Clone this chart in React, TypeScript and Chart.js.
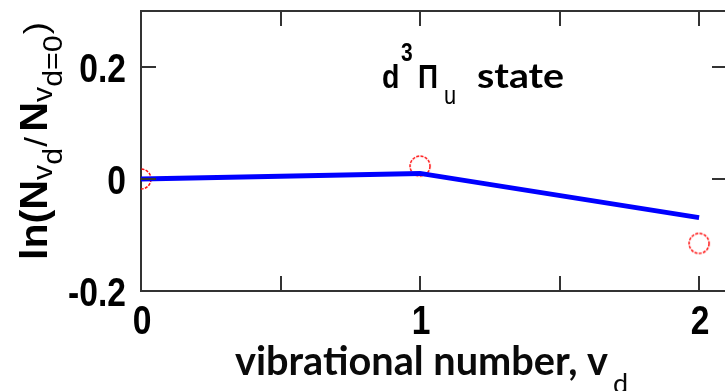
import React, { useEffect, useRef } from "react";
import { Chart, registerables } from "chart.js";

Chart.register(...registerables);

// ---- data ----
const vibLevels = [0, 1, 2];
const measuredLnRatio = [0, 0.023, -0.115];
const fittedLnRatio = [0, 0.01, -0.069];
const xTickLabels = [0, 1, 2];
const xTickMarks = [0.5, 1, 1.5, 2];
const yTickLabels = [-0.2, 0, 0.2];
const yTickMarks = [0, 0.2];

const W = 745;
const H = 391;
const ARIAL = '"Liberation Sans", Arial, sans-serif';
const HUMAN = 'Lato, "Open Sans", sans-serif';
const NARROW_K = 0.84;

type Seg = { t: string; f: string; dy: number; gap?: number };

function drawSegs(ctx: CanvasRenderingContext2D, segs: Seg[], totalWidth: number | null) {
  let natural = 0;
  for (const s of segs) {
    ctx.font = s.f;
    natural += ctx.measureText(s.t).width + (s.gap || 0);
  }
  const sx = totalWidth ? totalWidth / natural : 1;
  ctx.save();
  ctx.scale(sx, 1);
  let x = 0;
  for (const s of segs) {
    ctx.font = s.f;
    x += s.gap || 0;
    ctx.fillText(s.t, x, s.dy);
    x += ctx.measureText(s.t).width;
  }
  ctx.restore();
}

function narrowText(ctx: CanvasRenderingContext2D, t: string, x: number, y: number, align: CanvasTextAlign) {
  ctx.save();
  ctx.translate(x, y);
  ctx.scale(NARROW_K, 1);
  ctx.textAlign = align;
  ctx.fillText(t, 0, 0);
  ctx.restore();
}

function makeCircleImage(): HTMLCanvasElement {
  const c = document.createElement("canvas");
  c.width = 26;
  c.height = 26;
  const g = c.getContext("2d")!;
  g.strokeStyle = "#ff1010";
  g.lineWidth = 1.5;
  g.setLineDash([3, 1.3]);
  g.beginPath();
  g.arc(13, 13, 10, 0, Math.PI * 2);
  g.stroke();
  return c;
}

const decorPlugin = {
  id: "decor",
  afterDraw(chart: any) {
    const { ctx, chartArea: a, scales } = chart;
    const xs = scales.x;
    const ys = scales.y;
    const TL = 15;
    ctx.save();
    ctx.strokeStyle = "#333";
    ctx.lineWidth = 2;
    ctx.beginPath();
    for (const v of xTickMarks) {
      const px = Math.round(xs.getPixelForValue(v));
      ctx.moveTo(px, a.bottom);
      ctx.lineTo(px, a.bottom - TL);
      ctx.moveTo(px, a.top);
      ctx.lineTo(px, a.top + TL);
    }
    for (const v of yTickMarks) {
      const py = Math.round(ys.getPixelForValue(v));
      ctx.moveTo(a.left, py);
      ctx.lineTo(a.left + TL, py);
      ctx.moveTo(a.right, py);
      ctx.lineTo(a.right - TL, py);
    }
    ctx.stroke();
    ctx.restore();

    // tick labels (narrow bold)
    ctx.save();
    ctx.fillStyle = "#000";
    ctx.textBaseline = "alphabetic";
    ctx.font = `bold 40px ${ARIAL}`;
    for (const v of yTickLabels) {
      const py = ys.getPixelForValue(v);
      narrowText(ctx, String(v), 126, py + 15, "right");
    }
    for (const v of xTickLabels) {
      const px = xs.getPixelForValue(v);
      narrowText(ctx, String(v), px + 1, a.bottom + 43, "center");
    }
    ctx.restore();

    // y-axis title (rotated, with subscripts)
    ctx.save();
    ctx.fillStyle = "#000";
    ctx.textBaseline = "alphabetic";
    ctx.translate(47, 260);
    ctx.rotate(-Math.PI / 2);
    drawSegs(
      ctx,
      [
        { t: "ln(N", f: `bold 38px ${ARIAL}`, dy: 0 },
        { t: "v", f: `28px ${ARIAL}`, dy: 5 },
        { t: "d", f: `28px ${ARIAL}`, dy: 15 },
        { t: "/", f: `32px ${ARIAL}`, dy: 0, gap: 1 },
        { t: "N", f: `bold 38px ${ARIAL}`, dy: 0, gap: 5 },
        { t: "v", f: `28px ${ARIAL}`, dy: 5 },
        { t: "d=0", f: `28px ${ARIAL}`, dy: 15 },
        { t: ")", f: `34px ${ARIAL}`, dy: 0, gap: 1 },
      ],
      238
    );
    ctx.restore();

    // x-axis title
    ctx.save();
    ctx.fillStyle = "#0a0a0a";
    ctx.textBaseline = "alphabetic";
    ctx.translate(235, 375);
    drawSegs(ctx, [{ t: "vibrational number, v", f: `bold 41px ${HUMAN}`, dy: 0 }], 373);
    ctx.restore();
    ctx.save();
    ctx.fillStyle = "#0a0a0a";
    ctx.font = `27px ${HUMAN}`;
    ctx.fillText("d", 613, 393);
    ctx.restore();

    // state annotation
    ctx.save();
    ctx.fillStyle = "#000";
    ctx.textBaseline = "alphabetic";
    ctx.font = `bold 34px ${ARIAL}`;
    narrowText(ctx, "d", 382, 88, "left");
    ctx.font = `bold 25px ${ARIAL}`;
    narrowText(ctx, "3", 401, 61, "left");
    ctx.font = `bold 33px ${ARIAL}`;
    narrowText(ctx, "\u03A0", 418, 88, "left");
    ctx.font = `26px ${ARIAL}`;
    narrowText(ctx, "u", 444, 104, "left");
    ctx.translate(477, 88);
    drawSegs(ctx, [{ t: "state", f: `bold 35px ${HUMAN}`, dy: 0 }], 87);
    ctx.restore();
  },
};

export default function App() {
  const ref = useRef<HTMLCanvasElement | null>(null);
  useEffect(() => {
    if (!ref.current) return;
    const circleImg = makeCircleImage();
    const border = { display: true, color: "#333", width: 2 };
    const chart = new Chart(ref.current, {
      type: "scatter",
      data: {
        datasets: [
          {
            label: "fit",
            data: vibLevels.map((x, i) => ({ x, y: fittedLnRatio[i] })),
            showLine: true,
            borderColor: "#0000ff",
            backgroundColor: "#0000ff",
            borderWidth: 5,
            pointRadius: 0,
            tension: 0,
            order: 0,
            clip: 0,
          } as any,
          {
            label: "measured",
            data: vibLevels.map((x, i) => ({ x, y: measuredLnRatio[i] })),
            showLine: false,
            pointStyle: circleImg as any,
            pointRadius: 10,
            order: 1,
            clip: 0,
          } as any,
        ],
      },
      options: {
        responsive: false,
        animation: false,
        devicePixelRatio: 1,
        layout: { padding: 0 },
        plugins: { legend: { display: false }, tooltip: { enabled: false }, title: { display: false } },
        scales: {
          x: {
            type: "linear",
            position: "bottom",
            min: 0,
            max: 2.1,
            afterBuildTicks: (s: any) => {
              s.ticks = xTickLabels.map((v) => ({ value: v }));
            },
            afterFit: (s: any) => {
              s.height = 100;
              s.paddingLeft = 0;
              s.paddingRight = 0;
            },
            grid: { display: false, drawTicks: false },
            border,
            ticks: { display: false },
          },
          x2: {
            type: "linear",
            position: "top",
            min: 0,
            max: 2.1,
            afterFit: (s: any) => {
              s.height = 8;
              s.paddingLeft = 0;
              s.paddingRight = 0;
            },
            grid: { display: false, drawTicks: false },
            border,
            ticks: { display: false },
          },
          y: {
            type: "linear",
            position: "left",
            min: -0.2,
            max: 0.3,
            afterBuildTicks: (s: any) => {
              s.ticks = yTickLabels.map((v) => ({ value: v }));
            },
            afterFit: (s: any) => {
              s.width = 141;
              s.paddingTop = 0;
              s.paddingBottom = 0;
            },
            grid: { display: false, drawTicks: false },
            border,
            ticks: { display: false },
          },
          y2: {
            type: "linear",
            position: "right",
            min: -0.2,
            max: 0.3,
            afterFit: (s: any) => {
              s.width = W - 727;
              s.paddingTop = 0;
              s.paddingBottom = 0;
            },
            grid: { display: false, drawTicks: false },
            border,
            ticks: { display: false },
          },
        },
      } as any,
      plugins: [decorPlugin],
    });
    return () => chart.destroy();
  }, []);

  return (
    <div
      style={{
        position: "fixed",
        left: 0,
        top: 0,
        width: 725,
        height: 391,
        overflow: "hidden",
        background: "#fff",
      }}
    >
      <canvas ref={ref} width={W} height={H} style={{ width: W, height: H, display: "block" }} />
    </div>
  );
}
